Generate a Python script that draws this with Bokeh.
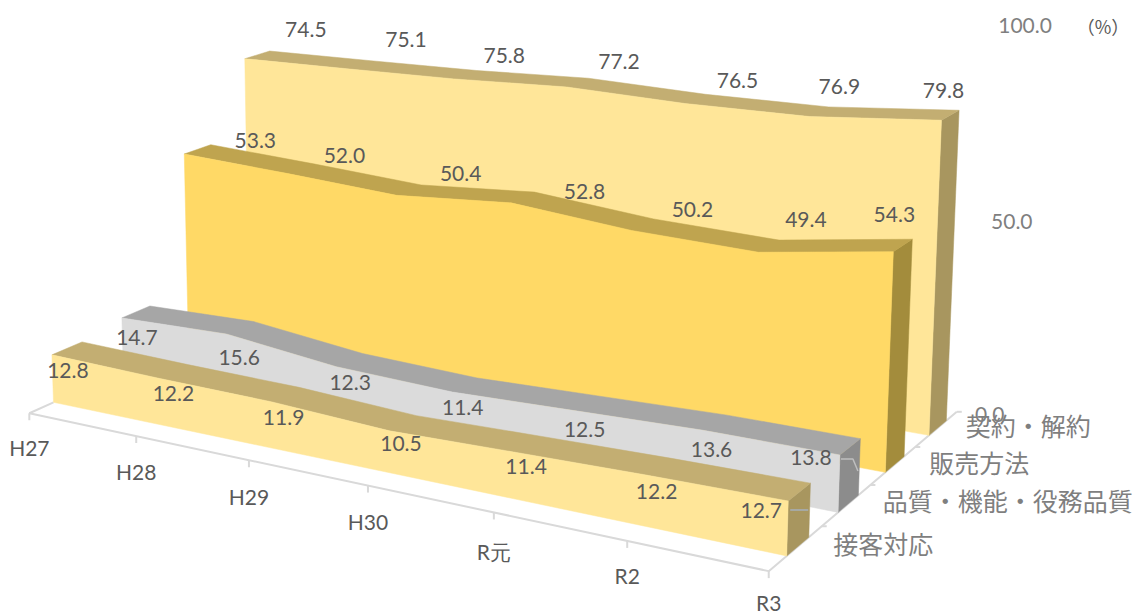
import numpy as np
from bokeh.plotting import figure
from bokeh.embed import file_html
from bokeh.resources import INLINE
from bokeh.core.properties import value

categories = ["H27", "H28", "H29", "H30", "R元", "R2", "R3"]
series_names = ["接客対応", "品質・機能・役務品質", "販売方法", "契約・解約"]
s_service = [12.8, 12.2, 11.9, 10.5, 11.4, 12.2, 12.7]
s_quality = [14.7, 15.6, 12.3, 11.4, 12.5, 13.6, 13.8]
s_sales = [53.3, 52.0, 50.4, 52.8, 50.2, 49.4, 54.3]
s_contract = [74.5, 75.1, 75.8, 77.2, 76.5, 76.9, 79.8]
series = [s_service, s_quality, s_sales, s_contract]
value_ticks = [0.0, 50.0, 100.0]

# ---- camera calibration: (across, depth, value) -> screen pixel
W = 0.42
AX0, AX1 = -0.33, 3.68
calib = [
    (1, 0, 0, 787, 556), (1, 0, 12.7, 788, 501), (1, W, 12.7, 809, 485), (1, W, 0, 808, 530),
    (0, 0, 0, 52, 402), (0, 0, 12.8, 51, 353), (0, W, 12.8, 79, 342),
    (1, 1, 0, 838, 510), (1, 1, 13.8, 840, 454), (1, 1 + W, 13.8, 858, 440), (1, 1 + W, 0, 857, 495),
    (0, 1, 14.7, 123, 317), (0, 1 + W, 14.7, 149, 306),
    (1, 2, 0, 885, 472), (1, 2, 54.3, 893, 250), (1, 2 + W, 54.3, 911, 239), (1, 2 + W, 0, 902, 457),
    (0, 2, 53.3, 184, 154), (0, 2 + W, 53.3, 210, 144),
    (1, 3, 0, 927, 434), (1, 3, 79.8, 942, 118), (1, 3 + W, 79.8, 958, 111), (1, 3 + W, 0, 945, 420),
    (0, 3, 74.5, 245, 58), (0, 3 + W, 74.5, 269, 51),
    (0, AX0, 0, 30, 412), (1, AX0, 0, 770, 571), (1, AX1, 0, 960, 412),
    (1 / 6, AX0, 0, 137, 435), (2 / 6, AX0, 0, 249, 459), (3 / 6, AX0, 0, 367, 486),
    (4 / 6, AX0, 0, 493, 515), (5 / 6, AX0, 0, 627, 542),
]
A, b = [], []
for u, d, v, x, y in calib:
    A.append([u, d, v, 1, 0, 0, 0, 0, -x * u, -x * d, -x * v]); b.append(x)
    A.append([0, 0, 0, 0, u, d, v, 1, -y * u, -y * d, -y * v]); b.append(y)
P = np.linalg.lstsq(np.array(A, float), np.array(b, float), rcond=None)[0]


def proj(u, d, v):
    w = P[8] * u + P[9] * d + P[10] * v + 1
    return ((P[0] * u + P[1] * d + P[2] * v + P[3]) / w,
            (P[4] * u + P[5] * d + P[6] * v + P[7]) / w)


us = [i / (len(categories) - 1) for i in range(len(categories))]

p = figure(width=1142, height=616, x_range=(0, 1142), y_range=(616, 0),
           output_backend="svg", toolbar_location=None, min_border=0)
p.axis.visible = False
p.grid.visible = False
p.outline_line_color = None
p.background_fill_color = "white"
p.border_fill_color = "white"

AXIS = "#D9D9D9"
# floor axes
pts = [proj(0, 0.0, 0), proj(0, AX0, 0), proj(1, AX0, 0), proj(1, AX1, 0)]
p.line([q[0] for q in pts], [q[1] for q in pts], line_color=AXIS, line_width=2)
for u in us:
    x, y = proj(u, AX0, 0)
    p.segment([x], [y], [x], [y + 7], line_color=AXIS, line_width=2)
for d in [AX0 + (AX1 - AX0) * k / 4 for k in range(1, 5)]:
    x, y = proj(1, d, 0)
    p.segment([x], [y], [x + 5], [y], line_color=AXIS, line_width=2)

front = ["#FFE699", "#DBDBDB", "#FFD966", "#FFE699"]
topc = ["#C3AE72", "#A6A6A6", "#BFA44F", "#C3AE72"]
side = ["#A8965F", "#8C8C8C", "#A38C3C", "#A8965F"]

for s in [3, 2, 1, 0]:
    vals = series[s]
    ft = [proj(u, s, v) for u, v in zip(us, vals)]
    bk = [proj(u, s + W, v) for u, v in zip(us, vals)]
    sd = [ft[-1], bk[-1], proj(1, s + W, 0), proj(1, s, 0)]
    p.patch([q[0] for q in sd], [q[1] for q in sd], fill_color=side[s], line_color=side[s], line_width=0.5)
    tp = ft + bk[::-1]
    p.patch([q[0] for q in tp], [q[1] for q in tp], fill_color=topc[s], line_color=topc[s], line_width=0.5)
    fc = ft + [proj(1, s, 0), proj(0, s, 0)]
    p.patch([q[0] for q in fc], [q[1] for q in fc], fill_color=front[s], line_color=front[s], line_width=0.5)

# data labels
NUM = "Lato"
offs = [((17, 18), (-26, 10)), ((14, 21), (-29, 4)), ((71, -14), (2, -35)), ((60, -28), (1, -29))]
nudges = [
    [(-1, -2), (5, -1), (10, 0), (16, -1), (23, 2), (28, 5), (-1, 0)],
    [(1, -1), (6, 5), (14, 0), (18, 3), (25, 9), (30, 12), (0, -1)],
    [(0, 1), (-3, -1), (16, -1), (37, 13), (36, 7), (34, -1), (-1, -2)],
    [(1, -1), (9, -1), (10, 5), (22, 3), (32, 6), (19, -1), (1, -1)],
]
for s in range(4):
    (a0, b0), (a1, b1) = offs[s]
    xs, ys, ts = [], [], []
    for u, v, (nx, ny) in zip(us, series[s], nudges[s]):
        x, y = proj(u, s, v)
        xs.append(x + a0 + (a1 - a0) * u + nx)
        ys.append(y + b0 + (b1 - b0) * u + ny)
        ts.append(f"{v:.1f}")
    p.text(xs, ys, text=ts, text_font=value(NUM), text_font_size="21px", text_color="#595959",
           text_align="center", text_baseline="middle")

# leader lines
x, y = proj(1, 1, s_quality[-1])
p.line([x + 1, x + 13, x + 18], [y + 4, y + 4, y + 16], line_color="#BFBFBF", line_width=1.5)
x, y = proj(1, 0, s_service[-1])
p.line([x + 2, x + 20], [y + 9, y + 9], line_color="#A6B0BC", line_width=1.5)

# category labels
xs, ys = zip(*[proj(u, AX0, 0) for u in us])
cat_drop = [34, 35, 36, 36, 39, 35, 31]
p.text(list(xs), [y + dy for y, dy in zip(ys, cat_drop)], text=categories, text_font=value(NUM),
       text_font_size="21px", text_color="#595959", text_align="center", text_baseline="middle")

# series labels
CJK = "Noto Sans CJK JP"
sl_x, sl_y = [], []
for s, nudge in enumerate([(86, -4), (160, -4), (85, -3), (91, -3)]):
    x, y = proj(1, s + 0.2, 0)
    sl_x.append(x + nudge[0])
    sl_y.append(y + nudge[1])
p.text(sl_x, sl_y, text=series_names, text_font=value(CJK), text_font_size="25px",
       text_color="#7F7F7F", text_align="center", text_baseline="middle")

# value labels
vx, vy = [], []
for v, (nx, ny) in zip(value_ticks, [(33, 3), (47, 1), (52, 2)]):
    x, y = proj(1, AX1, v)
    vx.append(x + nx)
    vy.append(y + ny)
p.text(vx, vy, text=[f"{v:.1f}" for v in value_ticks], text_font=value(NUM), text_font_size="21px",
       text_color="#7F7F7F", text_align="center", text_baseline="middle")
p.text([vx[-1] + 78], [vy[-1]], text=["（%）"], text_font=value(CJK), text_font_size="18px",
       text_color="#595959", text_align="center", text_baseline="middle")

open("out.html", "w").write(file_html(p, INLINE))
